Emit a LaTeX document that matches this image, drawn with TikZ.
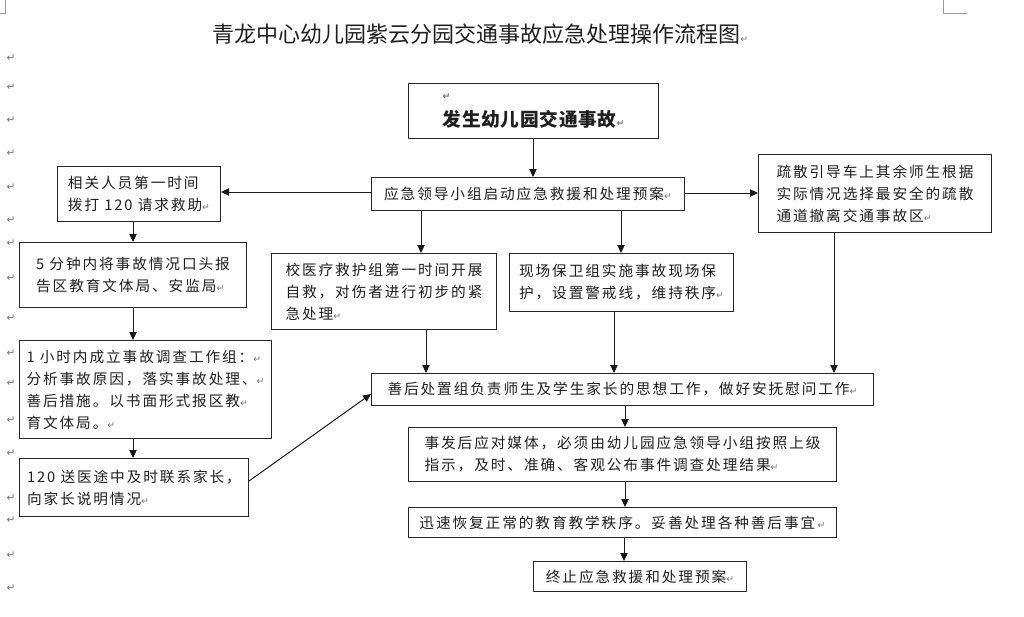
\documentclass[tikz,border=0pt]{standalone}
\usepackage{fontspec}
\setmainfont{Noto Sans CJK SC}
\newfontfamily\cjk[LetterSpace=13]{Noto Sans CJK SC}
\newfontfamily\cjkbig[LetterSpace=4]{Noto Sans CJK SC}
\newfontfamily\cjktitle{Noto Sans CJK SC}
\newfontfamily\symfont{DejaVu Sans}
\usetikzlibrary{arrows.meta}
\newcommand\boxfont{\cjk\fontsize{11pt}{16.5pt}\selectfont}
\newcommand\retmark{{\symfont\fontsize{7pt}{7pt}\selectfont\textcolor{black!55}{↵}}}
\tikzset{
  box/.style={draw=black!85,line width=0.75pt,fill=white,anchor=north west,inner sep=1pt,align=left,text=black!88,font=\boxfont},
  wh/.style 2 args={minimum width=#1*0.75pt,minimum height=#2*0.75pt},
  arr/.style={draw=black!90,line width=0.75pt,-{Triangle[length=6pt,width=5.5pt]}},
  crop/.style={draw=black!40,line width=0.6pt},
  retnode/.style={inner sep=0pt,font=\symfont\fontsize{8pt}{8pt}\selectfont,text=black!55}
}
\begin{document}
\begin{tikzpicture}[x=0.75pt,y=-0.75pt]
\fill[white] (0,0) rectangle (1024,617);
\useasboundingbox (0,0) rectangle (1024,617);
% crop marks
\draw[crop] (5,0) -- (5,13) -- (0,13);
\draw[crop] (943,0) -- (943,13) -- (967,13);
% left margin paragraph marks
\foreach \yy [count=\i] in {58,87,120,153,187,220,243,278,318,353,383,420,453,498,520,555,588}
  \node[retnode] (lm\i) at (11,\yy) {↵};
% title
\node[anchor=west,inner sep=0pt,text=black!88,font=\cjktitle\fontsize{16.5pt}{16.5pt}\selectfont] (title) at (212,34) {青龙中心幼儿园紫云分园交通事故应急处理操作流程图\retmark};
% boxes
\node[box,wh={250}{55},font=\cjkbig\bfseries\fontsize{14pt}{20pt}\selectfont] (B1) at (408,83) {\retmark\\发生幼儿园交通事故\retmark};
\node[box,wh={313}{33}] (B2) at (371,177) {应急领导小组启动应急救援和处理预案\retmark};
\node[box,wh={163}{55}] (B3) at (57,166) {相关人员第一时间\\拨打 120 请求救助\retmark};
\node[box,wh={233}{78}] (B4) at (758,154) {疏散引导车上其余师生根据\\实际情况选择最安全的疏散\\通道撤离交通事故区\retmark};
\node[box,wh={227}{65}] (B5) at (19,242) {5 分钟内将事故情况口头报\\告区教育文体局、安监局\retmark};
\node[box,wh={252}{98}] (B6) at (19,340) {1 小时内成立事故调查工作组：\retmark\\分析事故原因，落实事故处理、\retmark\\善后措施。以书面形式报区教\retmark\\育文体局。\retmark};
\node[box,wh={229}{58}] (B7) at (19,458) {120 送医途中及时联系家长，\\向家长说明情况\retmark};
\node[box,wh={225}{76}] (B8) at (271,253) {校医疗救护组第一时间开展\\自救，对伤者进行初步的紧\\急处理\retmark};
\node[box,wh={224}{58}] (B10) at (509,253) {现场保卫组实施事故现场保\\护，设置警戒线，维持秩序\retmark};
\node[box,wh={502}{32}] (B9) at (371,373) {善后处置组负责师生及学生家长的思想工作，做好安抚慰问工作\retmark};
\node[box,wh={428}{54}] (B11) at (408,427) {事发后应对媒体，必须由幼儿园应急领导小组按照上级\\指示，及时、准确、客观公布事件调查处理结果\retmark};
\node[box,wh={428}{30}] (B12) at (408,507) {迅速恢复正常的教育教学秩序。妥善处理各种善后事宜\,\retmark};
\node[box,wh={213}{30}] (B13) at (533,561) {终止应急救援和处理预案\retmark};
% connectors
\draw[arr] (B1.south -| 533,0) -- (B2.north -| 533,0);
\draw[arr] (B2.west |- 0,192) -- (B3.east |- 0,192);
\draw[arr] (B2.east |- 0,193) -- (B4.west |- 0,193);
\draw[arr] (B2.south -| 421,0) -- (B8.north -| 421,0);
\draw[arr] (B2.south -| 621,0) -- (B10.north -| 621,0);
\draw[arr] (B3.south -| 133,0) -- (B5.north -| 133,0);
\draw[arr] (B5.south -| 133,0) -- (B6.north -| 133,0);
\draw[arr] (B6.south -| 133,0) -- (B7.north -| 133,0);
\draw[arr] (B8.south -| 426,0) -- (B9.north -| 426,0);
\draw[arr] (B10.south -| 614,0) -- (B9.north -| 614,0);
\draw[arr] (B4.south -| 834,0) -- (B9.north -| 834,0);
\draw[arr] (B7.east |- 0,481) -- (B9.west |- 0,394);
\draw[arr] (B9.south -| 625,0) -- (B11.north -| 625,0);
\draw[arr] (B11.south -| 625,0) -- (B12.north -| 625,0);
\draw[arr] (B12.south -| 624,0) -- (B13.north -| 624,0);
\end{tikzpicture}
\end{document}
